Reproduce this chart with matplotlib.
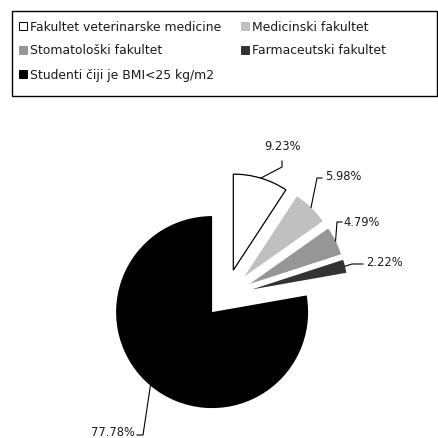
import math
import matplotlib
matplotlib.use("Agg")
import matplotlib.pyplot as plt
from matplotlib.patches import Rectangle

# data
categories = ["Fakultet veterinarske medicine", "Medicinski fakultet",
              "Stomatološki fakultet", "Farmaceutski fakultet",
              "Studenti čiji je BMI<25 kg/m2"]
shares = [9.23, 5.98, 4.79, 2.22, 77.78]
value_labels = ["9.23%", "5.98%", "4.79%", "2.22%", "77.78%"]

colors = ["#ffffff", "#c0c0c0", "#969696", "#333333", "#000000"]

W, H = 438, 439


def py(y):
    # pixel row (top = 0) -> data y
    return H - y


plt.rcParams['font.family'] = ['DejaVu Sans']

fig = plt.figure(figsize=(W / 100, H / 100), dpi=100)
ax = fig.add_axes([0, 0, 1, 1])

# pie, everything in pixel units
radius = 96
explode = [27, 27, 27, 27, 21]
wedges, _ = ax.pie(shares, colors=colors, startangle=90, counterclock=False,
                   radius=radius, center=(225.6, py(297)), explode=explode,
                   wedgeprops=dict(linewidth=0), frame=True)
wedges[0].set_edgecolor("black")
wedges[0].set_linewidth(0.9)
ax.set_xlim(0, W)
ax.set_ylim(0, H)
ax.axis("off")

# label layout (pixels): elbow, end of leader, text anchor, alignment
elbows = [(282, 168), (317, 179), (337, 223), (352, 265), (143, 436)]
ends = [(282, 162), (322, 179), (342, 223), (363, 265), (137, 436)]
text_pos = [(283, 147), (325, 177), (343, 222), (366, 263), (135, 433)]
aligns = ["center", "left", "left", "left", "right"]

for w, lab, el, en, tp, ha in zip(wedges, value_labels, elbows, ends, text_pos, aligns):
    tm = math.radians((w.theta1 + w.theta2) / 2)
    ax0 = w.center[0] + w.r * math.cos(tm)
    ay0 = w.center[1] + w.r * math.sin(tm)
    ax.plot([ax0, el[0], en[0]], [ay0, py(el[1]), py(en[1])],
            color="black", linewidth=0.8)
    ax.text(tp[0], py(tp[1]), lab, ha=ha, va="center", fontsize=8.3,
            color="#1a1a1a")

# legend drawn by hand, row-major like the original
ax.add_patch(Rectangle((12, py(97)), 425, 85, facecolor="none",
                       edgecolor="black", linewidth=1.0))
leg_pos = [(19, 27), (241, 27), (19, 50.5), (241, 50.5), (19, 75)]
for (lx, ly), cat, c in zip(leg_pos, categories, colors):
    ax.add_patch(Rectangle((lx, py(ly) - 4), 8, 8, facecolor=c,
                           edgecolor="black" if c == "#ffffff" else c,
                           linewidth=0.7))
    ax.text(lx + 11, py(ly), cat, ha="left", va="center", fontsize=8.9,
            color="#1a1a1a")

fig.savefig("out.png", dpi=100)
